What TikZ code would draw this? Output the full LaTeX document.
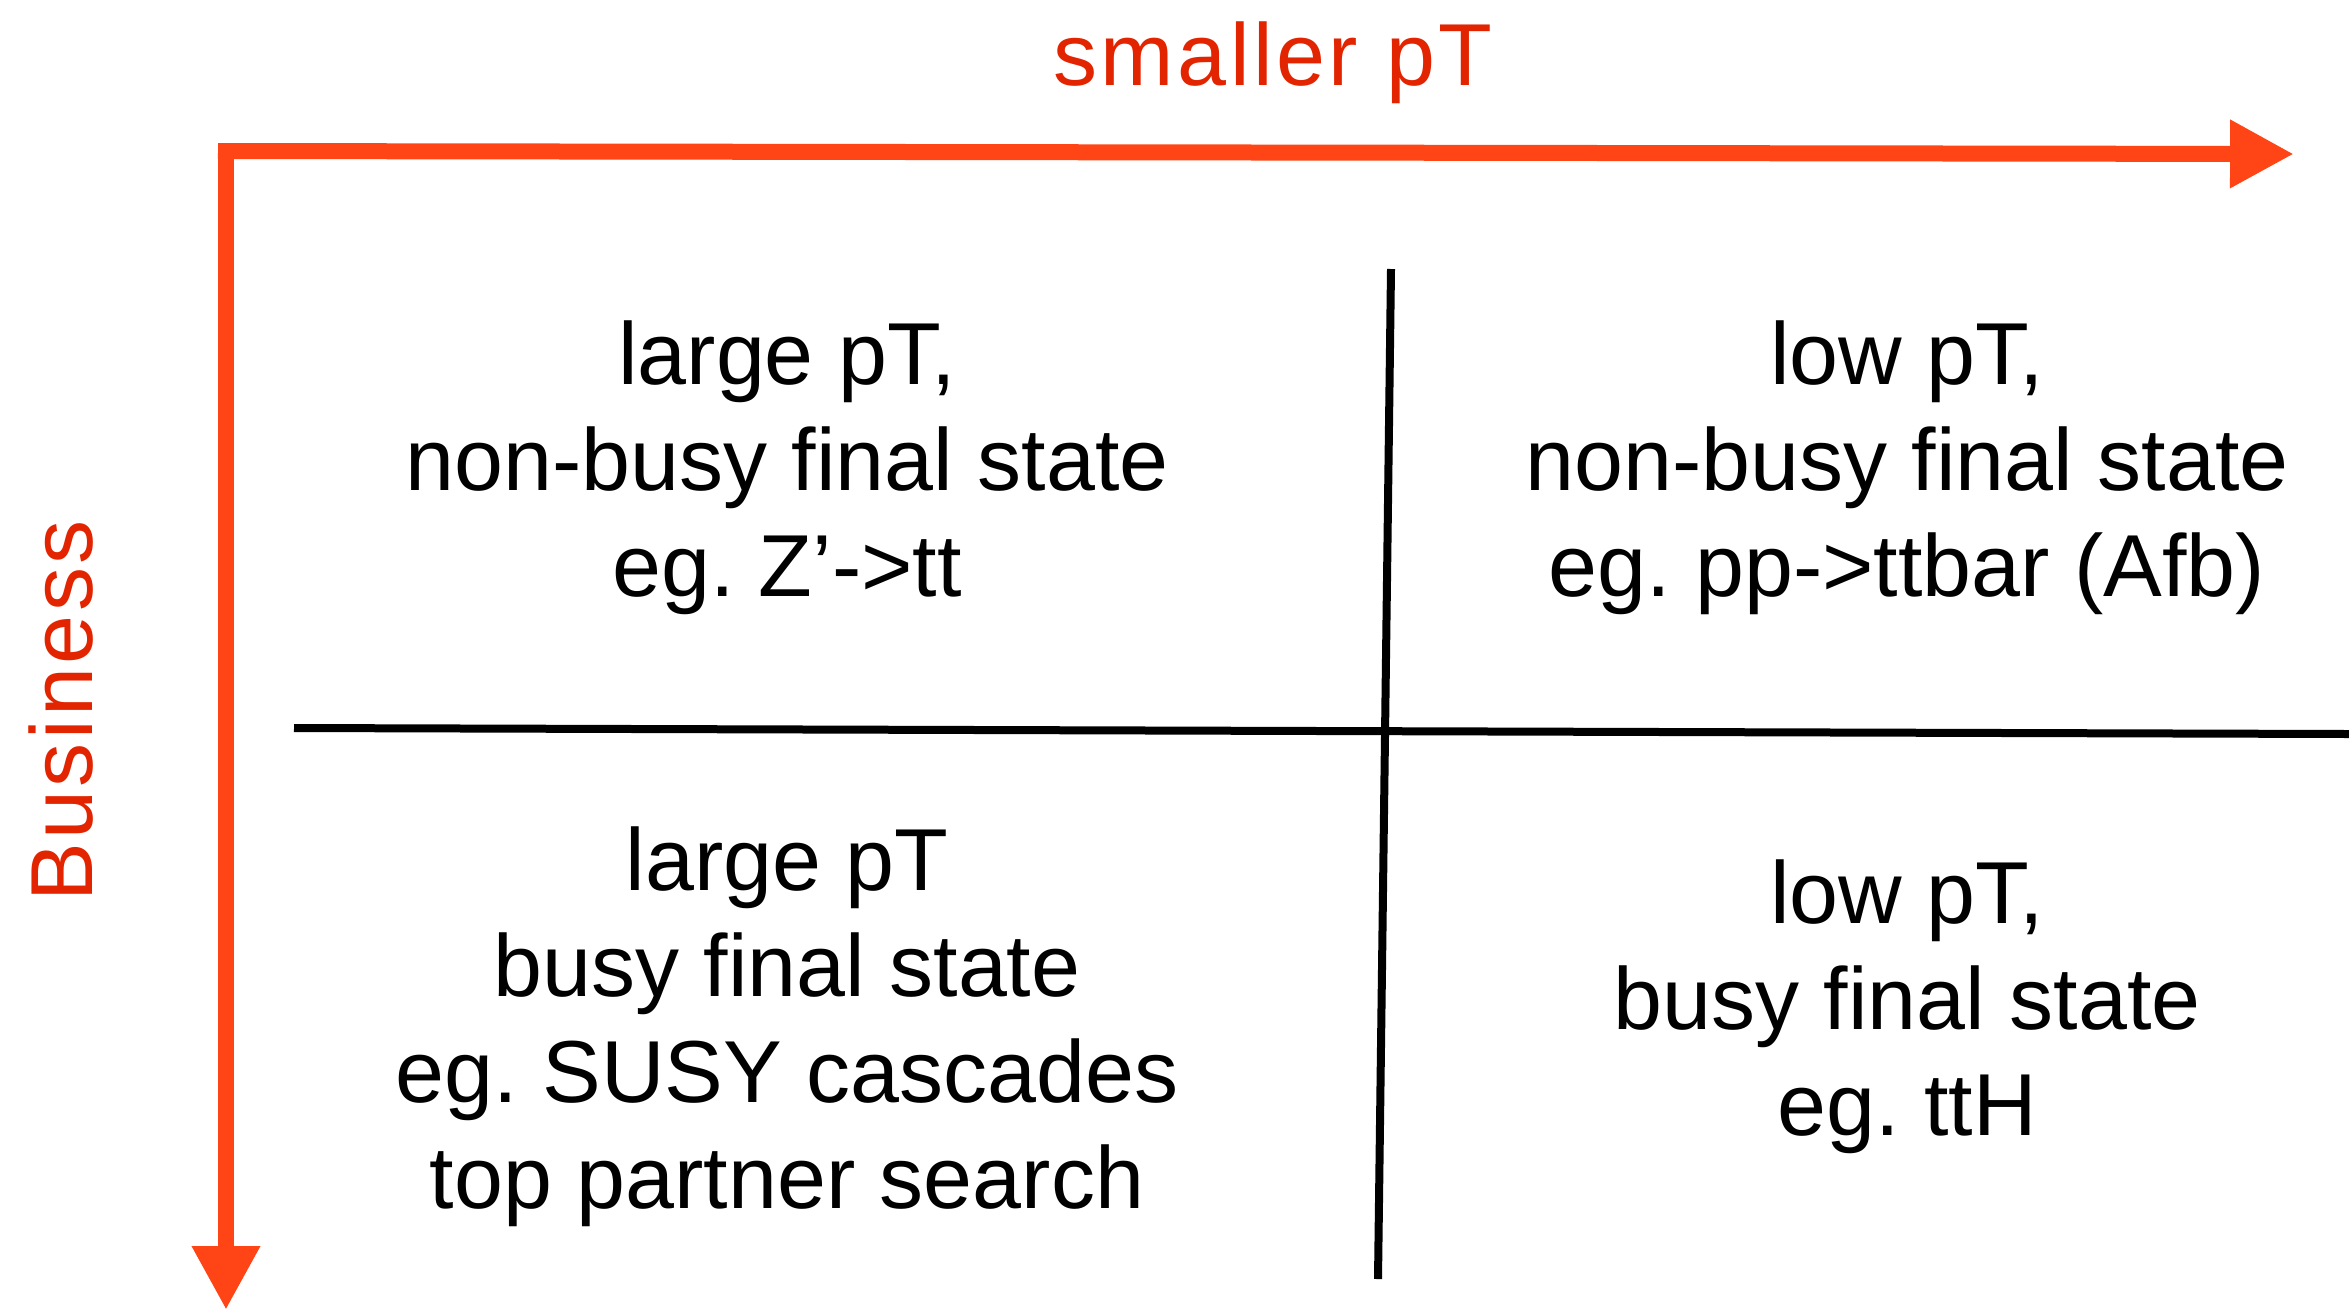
\documentclass[tikz,border=0pt]{standalone}
\usepackage{fontspec}
\setmainfont{Liberation Sans}
\newfontfamily\axisfont[LetterSpace=4.0]{Liberation Sans}
\usetikzlibrary{arrows.meta}
\definecolor{axisorange}{HTML}{FF4515}
\definecolor{labelred}{HTML}{E32400}
\tikzset{
  axisarrow/.style={draw=axisorange, line width=16pt, -{Triangle[length=64pt,width=64pt]}},
  divider/.style={draw=black, line width=8pt},
  axislabel/.style={text=labelred, font=\axisfont\fontsize{88}{106}\selectfont, inner sep=0pt},
  cell/.style={align=center, font=\fontsize{88}{106}\selectfont\frenchspacing, inner sep=0pt}
}
\begin{document}
\frenchspacing
\begin{tikzpicture}[x=1pt,y=-1pt]
\useasboundingbox (0,0) rectangle (2349,1310);
% axes
\coordinate (corner) at (226,143);
\coordinate (cornerh) at (218,151);
\coordinate (xend) at (2294,154);
\coordinate (yend) at (226,1310);
\draw[axisarrow] (cornerh) -- (xend);
\draw[axisarrow] (corner) -- (yend);
\node[axislabel, anchor=base] (xlabel) at (1273,85) {smaller pT};
\node[axislabel, anchor=base, rotate=90] (ylabel) at (92,711) {Business};
% dividers
\coordinate (vtop) at (1391,269);
\coordinate (vbot) at (1378,1279);
\coordinate (hleft) at (294,728);
\coordinate (hright) at (2349,734);
\draw[divider] (vtop) -- (vbot);
\draw[divider] (hleft) -- (hright);
% cells
\node[cell] (tl) at (787,468) {large pT,\\non-busy final state\\eg. Z’->tt};
\node[cell] (tr) at (1907,468) {low pT,\\non-busy final state\\eg. pp->ttbar (Afb)};
\node[cell] (bl) at (787,1027) {large pT\\busy final state\\eg. SUSY cascades\\top partner search};
\node[cell] (br) at (1907,1007) {low pT,\\busy final state\\eg. ttH};
\end{tikzpicture}
\end{document}
